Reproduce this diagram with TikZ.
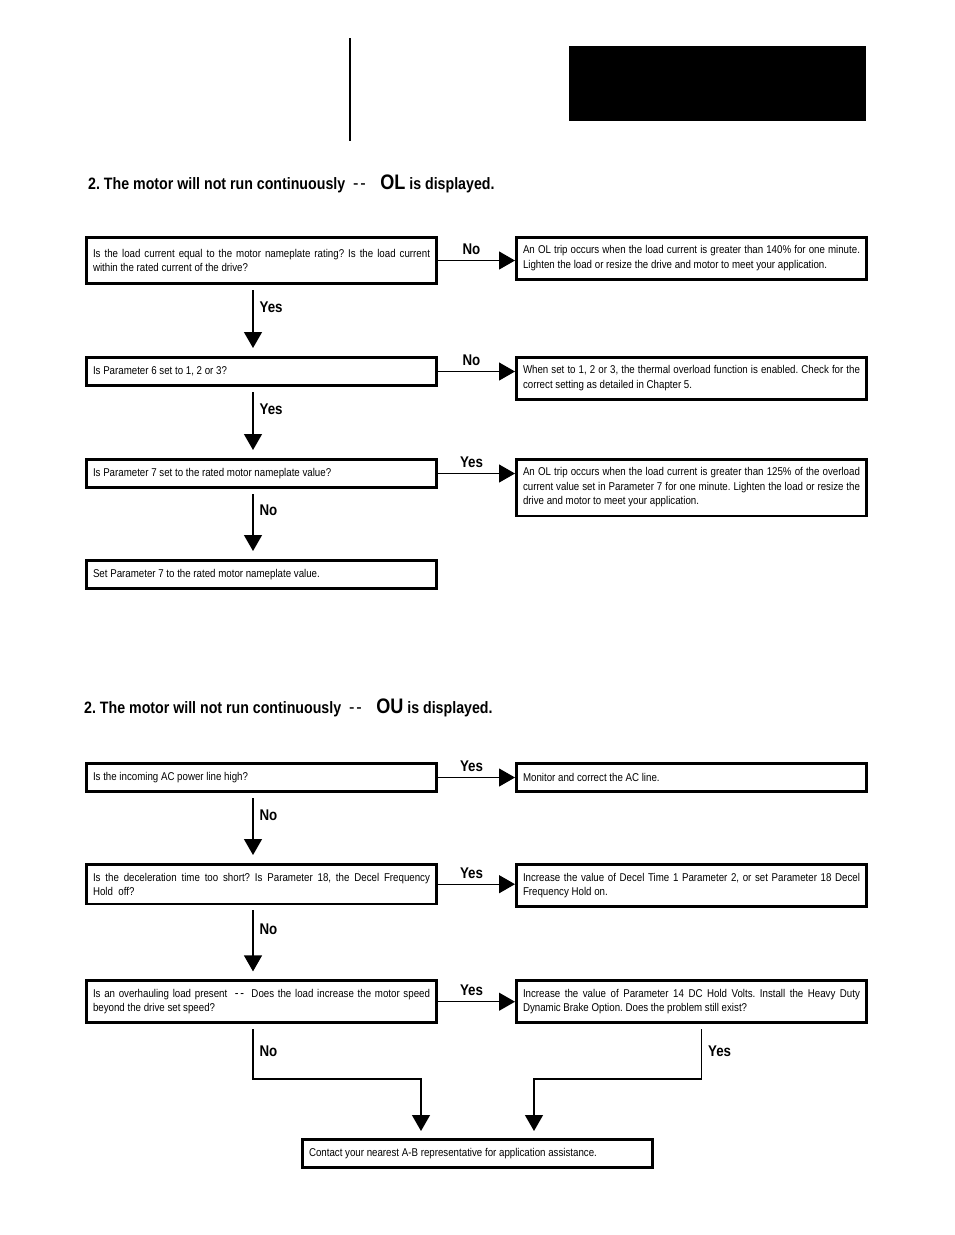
\documentclass[tikz,border=0pt]{standalone}
\usepackage{fontspec}
\setmainfont{Liberation Sans}[FakeStretch=0.86]
\usetikzlibrary{arrows.meta,positioning}
\newcommand{\dashpair}{{\mdseries -\kern1.8pt-}}

\begin{document}
\frenchspacing
\begin{tikzpicture}[x=1pt,y=-1pt,
box/.style={rectangle,draw,line width=2.6pt,text width=337pt,inner xsep=6.7pt,inner ysep=8.5pt,minimum height=28.4pt,align=justify,font=\fontsize{11.3}{14.5}\selectfont},
arr/.style={-{Triangle[length=16pt,width=18pt]},line width=1.2pt},
lbl/.style={inner sep=0pt,font=\fontsize{15.5}{16}\selectfont\bfseries},
head/.style={inner sep=0pt,anchor=west,font=\fontsize{16.5}{18}\selectfont\bfseries}
]
\useasboundingbox (0,0) rectangle (954,1235);
\draw[line width=1.5pt] (350,38) -- (350,141);
\fill (569,46) rectangle (866,121);

% OL is displayed
\node[head] (t1) at (88,184) {2. The motor will not run continuously\ \ {\fontsize{19}{19}\selectfont\dashpair}\ \ \ \,{\fontsize{21}{21}\selectfont OL} is displayed.};
\node[box,anchor=north west,minimum height=46.4pt] (a1) at (85,236) {Is the load current equal to the motor nameplate rating? Is the load current\linebreak within the rated current of the drive?};
\node[box,below=71pt of a1] (a2) {Is Parameter 6 set to 1, 2 or 3?};
\node[box,below=71pt of a2] (a3) {Is Parameter 7 set to the rated motor nameplate value?};
\node[box,below=70pt of a3] (a4) {Set Parameter 7 to the rated motor nameplate value.};
\node[box,right=77pt of a1.north east,anchor=north west] (r1) {An OL trip occurs when the load current is greater than 140\% for one minute.\linebreak Lighten the load or resize the drive and motor to meet your application.};
\node[box,right=77pt of a2.north east,anchor=north west] (r2) {When set to 1, 2 or 3, the thermal overload function is enabled. Check for the\linebreak correct setting as detailed in Chapter 5.};
\node[box,right=77pt of a3.north east,anchor=north west] (r3) {An OL trip occurs when the load current is greater than 125\% of the overload\linebreak current value set in Parameter 7 for one minute. Lighten the load or resize the\linebreak drive and motor to meet your application.};
\draw[arr] (a1.east) -- (a1.east -| r1.west) node[lbl,midway,above=5pt,xshift=-5pt] {No};
\draw[arr] (a2.east) -- (a2.east -| r2.west) node[lbl,midway,above=5pt,xshift=-5pt] {No};
\draw[arr] (a3.east) -- (a3.east -| r3.west) node[lbl,midway,above=5pt,xshift=-5pt] {Yes};
\draw[arr,shorten <=5pt,shorten >=8pt] ([xshift=-8.5pt]a1.south) -- ([xshift=-8.5pt]a2.north) node[lbl,pos=0.31,right=6pt] {Yes};
\draw[arr,shorten <=5pt,shorten >=8pt] ([xshift=-8.5pt]a2.south) -- ([xshift=-8.5pt]a3.north) node[lbl,pos=0.31,right=6pt] {Yes};
\draw[arr,shorten <=5pt,shorten >=8pt] ([xshift=-8.5pt]a3.south) -- ([xshift=-8.5pt]a4.north) node[lbl,pos=0.31,right=6pt] {No};

% OU is displayed
\node[head] (t2) at (84,708) {2. The motor will not run continuously\ \ {\fontsize{19}{19}\selectfont\dashpair}\ \ \ \,{\fontsize{21}{21}\selectfont OU} is displayed.};
\node[box,anchor=north west] (b1) at (85,762) {Is the incoming AC power line high?};
\node[box,below=70pt of b1] (b2) {Is the deceleration time too short? Is Parameter 18, the Decel Frequency\linebreak Hold\ \ off?};
\node[box,below=74pt of b2] (b3) {Is an overhauling load present\ \ {\fontsize{13}{13}\selectfont\dashpair}\ \ Does the load increase the motor speed\linebreak beyond the drive set speed?};
\node[box,right=77pt of b1.north east,anchor=north west] (q1) {Monitor and correct the AC line.};
\node[box,right=77pt of b2.north east,anchor=north west] (q2) {Increase the value of Decel Time 1 Parameter 2, or set Parameter 18 Decel\linebreak Frequency Hold on.};
\node[box,right=77pt of b3.north east,anchor=north west] (q3) {Increase the value of Parameter 14 DC Hold Volts. Install the Heavy Duty\linebreak Dynamic Brake Option. Does the problem still exist?};
\node[box,anchor=north west] (fin) at (301,1138) {Contact your nearest A-B representative for application assistance.};
\draw[arr] (b1.east) -- (b1.east -| q1.west) node[lbl,midway,above=5pt,xshift=-5pt] {Yes};
\draw[arr] (b2.east) -- (b2.east -| q2.west) node[lbl,midway,above=5pt,xshift=-5pt] {Yes};
\draw[arr] (b3.east) -- (b3.east -| q3.west) node[lbl,midway,above=5pt,xshift=-5pt] {Yes};
\draw[arr,shorten <=5pt,shorten >=8pt] ([xshift=-8.5pt]b1.south) -- ([xshift=-8.5pt]b2.north) node[lbl,pos=0.32,right=6pt] {No};
\draw[arr,shorten <=5pt,shorten >=8pt] ([xshift=-8.5pt]b2.south) -- ([xshift=-8.5pt]b3.north) node[lbl,pos=0.32,right=6pt] {No};
\draw[arr,shorten <=5pt,shorten >=7pt] ([xshift=-8.5pt]b3.south) -- ++(0,-55pt) node[lbl,midway,right=6pt] {No} -| ([xshift=-56.5pt]fin.north);
\draw[arr,shorten <=5pt,shorten >=7pt] ([xshift=10pt]q3.south) -- ++(0,-55pt) node[lbl,midway,right=6pt] {Yes} -| ([xshift=56.5pt]fin.north);
\end{tikzpicture}
\end{document}
